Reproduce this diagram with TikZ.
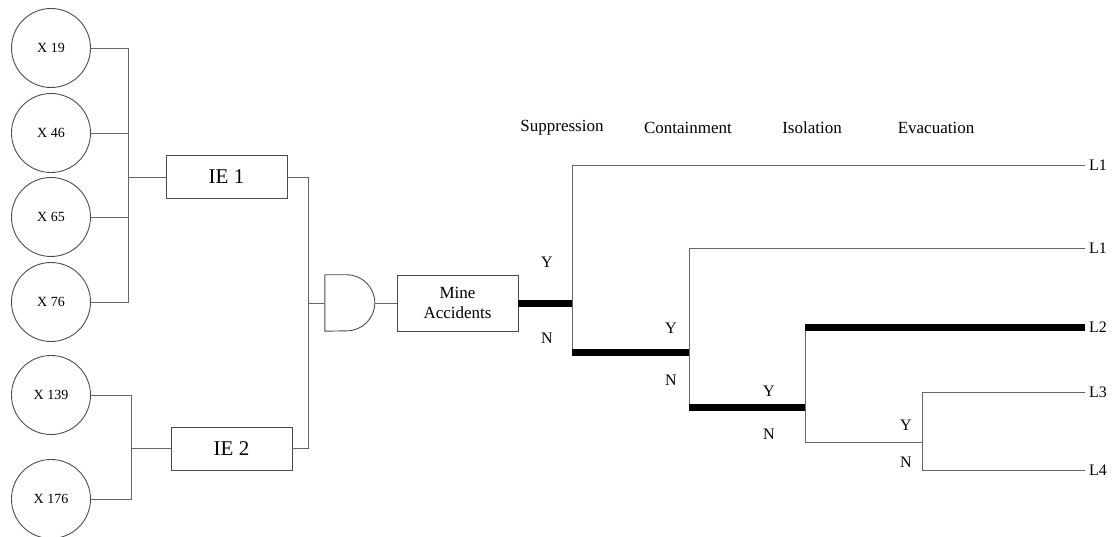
\documentclass[tikz,border=0pt]{standalone}
\usepackage{fontspec}
\setmainfont{Liberation Serif}
\begin{document}
\begin{tikzpicture}[x=1pt,y=-1pt,
  wire/.style={draw=black!60,line width=0.8pt},
  path/.style={draw=black,line width=7pt},
  basic/.style={circle,draw=black!70,line width=0.9pt,minimum size=79pt,inner sep=0pt,font=\fontsize{14}{16}\selectfont},
  ebox/.style={rectangle,draw=black!70,line width=0.9pt,inner sep=0pt},
  yn/.style={font=\fontsize{16}{18}\selectfont,inner sep=0pt},
  head/.style={font=\fontsize{17}{19}\selectfont,inner sep=0pt},
  outc/.style={font=\fontsize{16}{18}\selectfont,anchor=west,inner sep=4pt}]
\useasboundingbox (0,0) rectangle (1116,537);

% basic events
\node[basic] (x19)  at (51,48)  {X 19};
\node[basic] (x46)  at (51,133) {X 46};
\node[basic] (x65)  at (51,217) {X 65};
\node[basic] (x76)  at (51,302) {X 76};
\node[basic] (x139) at (51,395) {X 139};
\node[basic] (x176) at (51,499) {X 176};

% intermediate events
\node[ebox,minimum width=121pt,minimum height=43pt,font=\fontsize{21}{23}\selectfont] (ie1) at (226.5,177) {IE 1};
\node[ebox,minimum width=121pt,minimum height=43pt,font=\fontsize{21}{23}\selectfont] (ie2) at (231.5,448.5) {IE 2};

% AND gate
\node[minimum width=50pt,minimum height=56pt,inner sep=0pt] (gate) at (350,303) {};
\draw[draw=black!70,line width=0.9pt] (gate.north west) -- ++(22pt,0pt)
  arc[start angle=90,end angle=-90,radius=28pt] -- (gate.south west) -- cycle;

% top event
\node[ebox,minimum width=121pt,minimum height=56pt,align=center,font=\fontsize{17}{20}\selectfont] (ma) at (457.5,303) {Mine\\Accidents};

% junctions of the fault tree
\coordinate (j1) at (128,177);
\coordinate (j2) at (131,448.5);
\coordinate (j3) at (308,303);

\foreach \n in {x19,x46,x65,x76} \draw[wire] (\n.east) -| (j1);
\draw[wire] (j1) -- (ie1.west);
\foreach \n in {x139,x176} \draw[wire] (\n.east) -| (j2);
\draw[wire] (j2) -- (ie2.west);
\draw[wire] (ie1.east) -| (j3);
\draw[wire] (ie2.east) -| (j3);
\draw[wire] (j3) -- (gate.west);
\draw[wire] (gate.east) -- (ma.west);

% event tree headings
\node[head] (hs) at (562,128) {Suppression};
\node[head] (hc) at (688,128) {Containment};
\node[head] (hi) at (812,128) {Isolation};
\node[head] (he) at (936,128) {Evacuation};

% branch points
\coordinate (s0) at (572,303);
\coordinate (sY) at (572,165);
\coordinate (sN) at (572,352);
\coordinate (cY) at (689,248);
\coordinate (cN) at (689,407);
\coordinate (iY) at (805,327);
\coordinate (iN) at (805,442);
\coordinate (eY) at (922,392);
\coordinate (eN) at (922,470);

% outcomes
\node[outc] (o1) at (1085,165) {L1};
\node[outc] (o2) at (1085,248) {L1};
\node[outc] (o3) at (1085,327) {L2};
\node[outc] (o4) at (1085,392) {L3};
\node[outc] (o5) at (1085,470) {L4};

% branches
\draw[wire] (sY) -- (sN);
\draw[wire] (cY) -- (cN);
\draw[wire] (iY) -- (iN);
\draw[wire] (eY) -- (eN);
\draw[wire] (sY) -- (o1.west);
\draw[wire] (cY) -- (o2.west);
\draw[wire] (iN) -- (eY |- iN);
\draw[wire] (eY) -- (o4.west);
\draw[wire] (eN) -- (o5.west);

% highlighted accident sequence
\draw[path] (ma.east) -- (s0);
\draw[path] (sN) -- (cY |- sN);
\draw[path] (cN) -- (iY |- cN);
\draw[path] (iY) -- (o3.west);

% branch labels
\node[yn] at (547,262) {Y};
\node[yn] at (547,338) {N};
\node[yn] at (671,328) {Y};
\node[yn] at (671,380) {N};
\node[yn] at (769,391) {Y};
\node[yn] at (769,434) {N};
\node[yn] at (906,425) {Y};
\node[yn] at (906,462) {N};
\end{tikzpicture}
\end{document}
